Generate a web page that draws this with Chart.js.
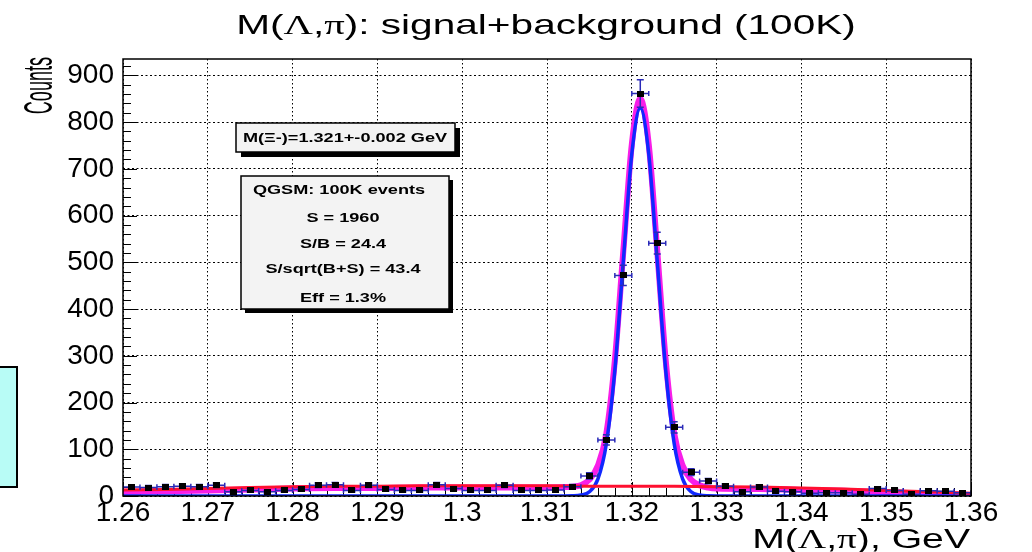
<!DOCTYPE html>
<html>
<head>
<meta charset="utf-8">
<title>M(Λ,π): signal+background (100K)</title>
<script src="https://cdn.jsdelivr.net/npm/chart.js@4.4.1/dist/chart.umd.min.js"></script>
<style>
  html, body { margin: 0; padding: 0; background: #fff; }
</style>
</head>
<body>
<canvas id="massplot_data" width="1032" height="552"></canvas>
<script>
// M(Lambda,pi) histogram, bin width 0.002 GeV
var binCenters = [1.261, 1.263, 1.265, 1.267, 1.269, 1.271, 1.273, 1.275, 1.277, 1.279,
                  1.281, 1.283, 1.285, 1.287, 1.289, 1.291, 1.293, 1.295, 1.297, 1.299,
                  1.301, 1.303, 1.305, 1.307, 1.309, 1.311, 1.313, 1.315, 1.317, 1.319,
                  1.321, 1.323, 1.325, 1.327, 1.329, 1.331, 1.333, 1.335, 1.337, 1.339,
                  1.341, 1.343, 1.345, 1.347, 1.349, 1.351, 1.353, 1.355, 1.357, 1.359];
var counts = [19, 18, 20, 21, 20, 23, 9, 12, 9, 12,
              14, 23, 24, 12, 23, 14, 12, 12, 24, 16,
              12, 12, 23, 12, 12, 13, 20, 43, 120, 472,
              861, 541, 147, 51, 32, 21, 9, 19, 10, 9,
              6, 7, 7, 4, 16, 12, 4, 11, 10, 7];
var binHalfWidth = 0.001;

// axis labels
var massTicks = [1.26, 1.27, 1.28, 1.29, 1.30, 1.31, 1.32, 1.33, 1.34, 1.35, 1.36];
var countTicks = [0, 100, 200, 300, 400, 500, 600, 700, 800, 900];

// background fit (red)
var bgMass = [1.26, 1.265, 1.27, 1.275, 1.28, 1.285, 1.29, 1.295, 1.30, 1.305, 1.31,
              1.315, 1.32, 1.325, 1.33, 1.335, 1.34, 1.345, 1.35, 1.355, 1.36];
var bgFit = [13, 14, 16, 18, 20, 21, 21, 22, 22, 22, 22,
             21, 21, 21, 20, 19, 17, 15, 12, 9, 6];

// gaussian signal fit (blue)
var sigMass = [1.26, 1.312, 1.313, 1.314, 1.315, 1.316, 1.317, 1.318, 1.319, 1.320, 1.321,
               1.322, 1.323, 1.324, 1.325, 1.326, 1.327, 1.328, 1.329, 1.330, 1.36];
var sigFit = [0, 0, 0.3, 2, 9, 36, 112, 269, 503, 732, 830,
              732, 503, 269, 112, 36, 9, 2, 0.3, 0, 0];

// signal + background fit (magenta)
var totMass = [1.26, 1.265, 1.27, 1.275, 1.28, 1.285, 1.29, 1.295, 1.30, 1.305, 1.31,
               1.312, 1.313, 1.314, 1.315, 1.316, 1.317, 1.318, 1.319, 1.320, 1.321,
               1.322, 1.323, 1.324, 1.325, 1.326, 1.327, 1.328, 1.329, 1.330,
               1.335, 1.34, 1.345, 1.35, 1.355, 1.36];
var totFit = [9, 10, 12, 14, 16, 17, 17, 18, 18, 18, 18,
              19, 20, 23, 35, 65, 134, 290, 524, 752, 850,
              752, 524, 290, 134, 65, 35, 23, 18, 16,
              15, 13, 11, 8, 5, 2];

var SANS = '"Liberation Sans", Arial, Helvetica, sans-serif';
var SERIF = '"Liberation Serif", "Times New Roman", serif';

function pairs(xs, ys) {
    return xs.map(function (x, i) { return { x: x, y: ys[i] }; });
}

// text made of pieces in different fonts, stretched along x by sx
function drawRuns(ctx, runs, x, y, size, weight, align, sx) {
    ctx.save();
    var total = 0;
    runs.forEach(function (r) {
        ctx.font = weight + ' ' + size + 'px ' + r[1];
        total += ctx.measureText(r[0]).width;
    });
    ctx.translate(x, y);
    ctx.scale(sx, 1);
    var cx = align === 'center' ? -total / 2 : (align === 'right' ? -total : 0);
    ctx.textAlign = 'left';
    ctx.textBaseline = 'alphabetic';
    ctx.fillStyle = '#000';
    runs.forEach(function (r) {
        ctx.font = weight + ' ' + size + 'px ' + r[1];
        ctx.fillText(r[0], cx, 0);
        cx += ctx.measureText(r[0]).width;
    });
    ctx.restore();
}

function pave(ctx, x, y, w, h, shadow) {
    ctx.save();
    ctx.fillStyle = '#000';
    ctx.fillRect(x + shadow, y + shadow, w, h);
    ctx.fillStyle = '#f3f3f3';
    ctx.fillRect(x, y, w, h);
    ctx.strokeStyle = '#000';
    ctx.lineWidth = 1.5;
    ctx.strokeRect(x, y, w, h);
    ctx.restore();
}

// square markers, a bit wider than tall
var markerImg = document.createElement('canvas');
markerImg.width = 7;
markerImg.height = 6;
var mctx = markerImg.getContext('2d');
mctx.fillStyle = '#000';
mctx.fillRect(0, 0, 7, 6);

var rootStyle = {
    id: 'rootStyle',
    beforeDraw: function (chart) {
        var ctx = chart.ctx;
        ctx.save();
        ctx.fillStyle = '#fff';
        ctx.fillRect(0, 0, chart.width, chart.height);
        ctx.restore();
    },
    beforeDatasetsDraw: function (chart) {
        // inward axis ticks
        var ctx = chart.ctx, a = chart.chartArea;
        var xs = chart.scales.x, ys = chart.scales.y;
        ctx.save();
        ctx.strokeStyle = '#000';
        ctx.lineWidth = 1;
        ctx.beginPath();
        for (var i = 0; i <= 50; i++) {
            var px = Math.round(xs.getPixelForValue(1.26 + i * 0.002)) + 0.5;
            var len = i % 5 === 0 ? 14 : 8;
            ctx.moveTo(px, a.bottom);
            ctx.lineTo(px, a.bottom - len);
        }
        for (var j = 0; j <= 46; j++) {
            var py = Math.round(ys.getPixelForValue(j * 20)) + 0.5;
            var l = j % 5 === 0 ? 14 : 8;
            ctx.moveTo(a.left, py);
            ctx.lineTo(a.left + l, py);
        }
        ctx.stroke();
        ctx.restore();
    },
    beforeDatasetDraw: function (chart, args) {
        if (args.index !== 0) return;
        // error bars: bin width and sqrt(N)
        var ctx = chart.ctx;
        var xs = chart.scales.x, ys = chart.scales.y;
        ctx.save();
        ctx.beginPath();
        ctx.rect(chart.chartArea.left, chart.chartArea.top, chart.chartArea.width, chart.chartArea.height);
        ctx.clip();
        ctx.strokeStyle = '#2a2ab8';
        ctx.lineWidth = 1.5;
        ctx.beginPath();
        binCenters.forEach(function (m, i) {
            var n = counts[i];
            var err = Math.sqrt(n);
            var px = xs.getPixelForValue(m);
            var py = ys.getPixelForValue(n);
            var x0 = xs.getPixelForValue(m - binHalfWidth);
            var x1 = xs.getPixelForValue(m + binHalfWidth);
            var y0 = ys.getPixelForValue(n - err);
            var y1 = ys.getPixelForValue(n + err);
            ctx.moveTo(x0, py); ctx.lineTo(x1, py);
            ctx.moveTo(x0, py - 2.5); ctx.lineTo(x0, py + 2.5);
            ctx.moveTo(x1, py - 2.5); ctx.lineTo(x1, py + 2.5);
            ctx.moveTo(px, y0); ctx.lineTo(px, y1);
            ctx.moveTo(px - 3.5, y0); ctx.lineTo(px + 3.5, y0);
            ctx.moveTo(px - 3.5, y1); ctx.lineTo(px + 3.5, y1);
        });
        ctx.stroke();
        ctx.restore();
    },
    afterDatasetsDraw: function (chart) {
        var ctx = chart.ctx, a = chart.chartArea;
        ctx.save();
        ctx.strokeStyle = '#000';
        ctx.lineWidth = 1.5;
        ctx.strokeRect(a.left, a.top, a.right - a.left, a.bottom - a.top);
        ctx.restore();
    },
    afterDraw: function (chart) {
        var ctx = chart.ctx;

        // title and axis titles
        drawRuns(ctx, [['M(', SANS], ['Λ', SERIF], [',', SANS], ['π', SERIF],
                       ['): signal+background (100K)', SANS]],
                 546, 34, 28, 'normal', 'center', 1.45);
        drawRuns(ctx, [['M(', SANS], ['Λ', SERIF], [',', SANS], ['π', SERIF], ['), GeV', SANS]],
                 970, 548, 27, 'normal', 'right', 1.45);

        ctx.save();
        ctx.translate(52, 57);
        ctx.rotate(-Math.PI / 2);
        ctx.scale(0.44, 1);
        ctx.font = 'normal 41px ' + SANS;
        ctx.fillStyle = '#000';
        ctx.textAlign = 'right';
        ctx.textBaseline = 'alphabetic';
        ctx.fillText('Counts', 0, 0);
        ctx.restore();

        // fit result boxes
        pave(ctx, 236, 123, 219, 29, 5);
        drawRuns(ctx, [['M(Ξ-)=1.321+-0.002 GeV', SANS]], 345, 142, 12.5, 'bold', 'center', 1.45);

        pave(ctx, 241, 176, 208, 133, 4);
        drawRuns(ctx, [['QGSM: 100K events', SANS]], 339, 194, 12.5, 'bold', 'center', 1.45);
        drawRuns(ctx, [['S = 1960', SANS]], 343, 222, 12.5, 'bold', 'center', 1.45);
        drawRuns(ctx, [['S/B = 24.4', SANS]], 343, 248, 12.5, 'bold', 'center', 1.45);
        drawRuns(ctx, [['S/sqrt(B+S) = 43.4', SANS]], 343, 273, 12.5, 'bold', 'center', 1.45);
        drawRuns(ctx, [['Eff = 1.3%', SANS]], 343, 302, 12.5, 'bold', 'center', 1.45);

        // stats box cut by the left edge
        ctx.save();
        ctx.fillStyle = '#b8fcf6';
        ctx.fillRect(-4, 367, 21, 120);
        ctx.strokeStyle = '#000';
        ctx.lineWidth = 2;
        ctx.strokeRect(-4, 367, 21, 120);
        ctx.restore();
    }
};

const dt = {
    datasets: [
    {
        label: 'data',
        data: pairs(binCenters, counts),
        pointStyle: markerImg,
        pointRadius: 3,
        showLine: false,
        order: 0
    },
    {
        label: 'background',
        data: pairs(bgMass, bgFit),
        showLine: true,
        borderColor: '#ff1030',
        borderWidth: 3,
        pointRadius: 0,
        order: 1
    },
    {
        label: 'signal',
        data: pairs(sigMass, sigFit),
        showLine: true,
        borderColor: '#1028ff',
        borderWidth: 3.5,
        pointRadius: 0,
        cubicInterpolationMode: 'monotone',
        order: 2
    },
    {
        label: 'signal+background',
        data: pairs(totMass, totFit),
        showLine: true,
        borderColor: '#f81ee8',
        borderWidth: 6,
        pointRadius: 0,
        cubicInterpolationMode: 'monotone',
        order: 3
    }
    ]
};

const config_massplot = {
    type: 'scatter',
    data: dt,
    options: {
        responsive: false,
        animation: false,
        layout: { padding: { top: 59, right: 61, left: 0, bottom: 0 } },
        plugins: {
            legend: { display: false },
            tooltip: { enabled: false },
            title: { display: false }
        },
        scales: {
            x: {
                type: 'linear',
                min: 1.26,
                max: 1.36,
                afterFit: function (s) { s.height = 56; },
                afterBuildTicks: function (s) {
                    s.ticks = massTicks.map(function (v) { return { value: v }; });
                },
                ticks: {
                    autoSkip: false,
                    maxRotation: 0,
                    padding: 0,
                    color: '#000',
                    font: { family: SANS, size: 28 },
                    callback: function (v) { return String(Number(v.toFixed(2))); }
                },
                grid: { color: '#000', lineWidth: 1, drawTicks: false },
                border: { display: false, dash: [1.5, 2.5] }
            },
            y: {
                type: 'linear',
                min: 0,
                max: 935,
                afterFit: function (s) { s.width = 123; },
                afterBuildTicks: function (s) {
                    s.ticks = countTicks.map(function (v) { return { value: v }; });
                },
                ticks: {
                    padding: 9,
                    color: '#000',
                    font: { family: SANS, size: 28 }
                },
                grid: { color: '#000', lineWidth: 1, drawTicks: false },
                border: { display: false, dash: [2, 2.5] }
            }
        }
    },
    plugins: [rootStyle]
};

const massplot_data = new Chart(
    document.getElementById('massplot_data'),
    config_massplot
);
</script>
</body>
</html>
